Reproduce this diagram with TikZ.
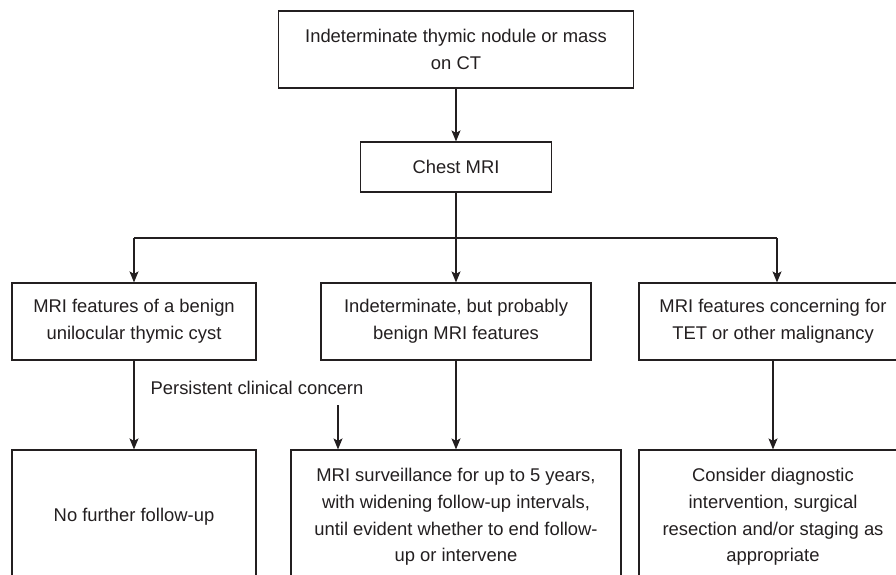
\documentclass[tikz,border=0pt]{standalone}
\usepackage{fontspec}
\setmainfont{Liberation Sans}
\usetikzlibrary{arrows.meta,calc}
\definecolor{ink}{HTML}{231F20}
\begin{document}
\begin{tikzpicture}[x=1pt,y=-1pt,
  box/.style={draw=ink, line width=1.2pt, rectangle, align=center, text=ink,
    inner sep=0pt, font=\fontsize{18.4pt}{26.8pt}\selectfont},
  conn/.style={draw=ink, line width=1.2pt},
  arr/.style={conn, -{Stealth[length=11pt,width=9pt,inset=2.5pt]}},
  lbl/.style={text=ink, inner sep=0pt, font=\fontsize{18.4pt}{26.8pt}\selectfont}]
\useasboundingbox[fill=white] (0,0) rectangle (896,575);
\node[box, minimum width=355pt, minimum height=77pt] (top) at (456,49.5)
  {Indeterminate thymic nodule or mass\\on CT};
\node[box, minimum width=191pt, minimum height=50pt] (mri) at (456,167) {Chest MRI};
\node[box, minimum width=244pt, minimum height=77pt] (b1) at (134,321.5)
  {MRI features of a benign\\unilocular thymic cyst};
\node[box, minimum width=270pt, minimum height=77pt] (b2) at (456,321.5)
  {Indeterminate, but probably\\benign MRI features};
\node[box, minimum width=268pt, minimum height=77pt] (b3) at (773,321.5)
  {MRI features concerning for\\TET or other malignancy};
\node[box, minimum width=244pt, minimum height=134pt] (c1) at (134,517)
  {No further follow-up};
\node[box, minimum width=330pt, minimum height=134pt] (c2) at (456,517)
  {MRI surveillance for up to 5 years,\\with widening follow-up intervals,\\until evident whether to end follow-\\up or intervene};
\node[box, minimum width=268pt, minimum height=134pt] (c3) at (773,517)
  {Consider diagnostic\\intervention, surgical\\resection and/or staging as\\appropriate};
\node[lbl] (pcc) at (257,388) {Persistent clinical concern};
\coordinate (hm) at (456,238);
\coordinate (hl) at (134,238);
\coordinate (hr) at (777,238);
\coordinate (pcs) at (338,405);
\draw[arr] (top.south) -- (mri.north);
\draw[conn] (mri.south) -- (hm);
\draw[conn] (hl) -- (hr);
\draw[arr] (hl) -- (b1.north);
\draw[arr] (hm) -- (b2.north);
\draw[arr] (hr) -- (hr |- b3.north);
\draw[arr] (b1.south) -- (c1.north);
\draw[arr] (b2.south) -- (c2.north);
\draw[arr] (b3.south) -- (c3.north);
\draw[arr] (pcs) -- (pcs |- c2.north);
\end{tikzpicture}
\end{document}
